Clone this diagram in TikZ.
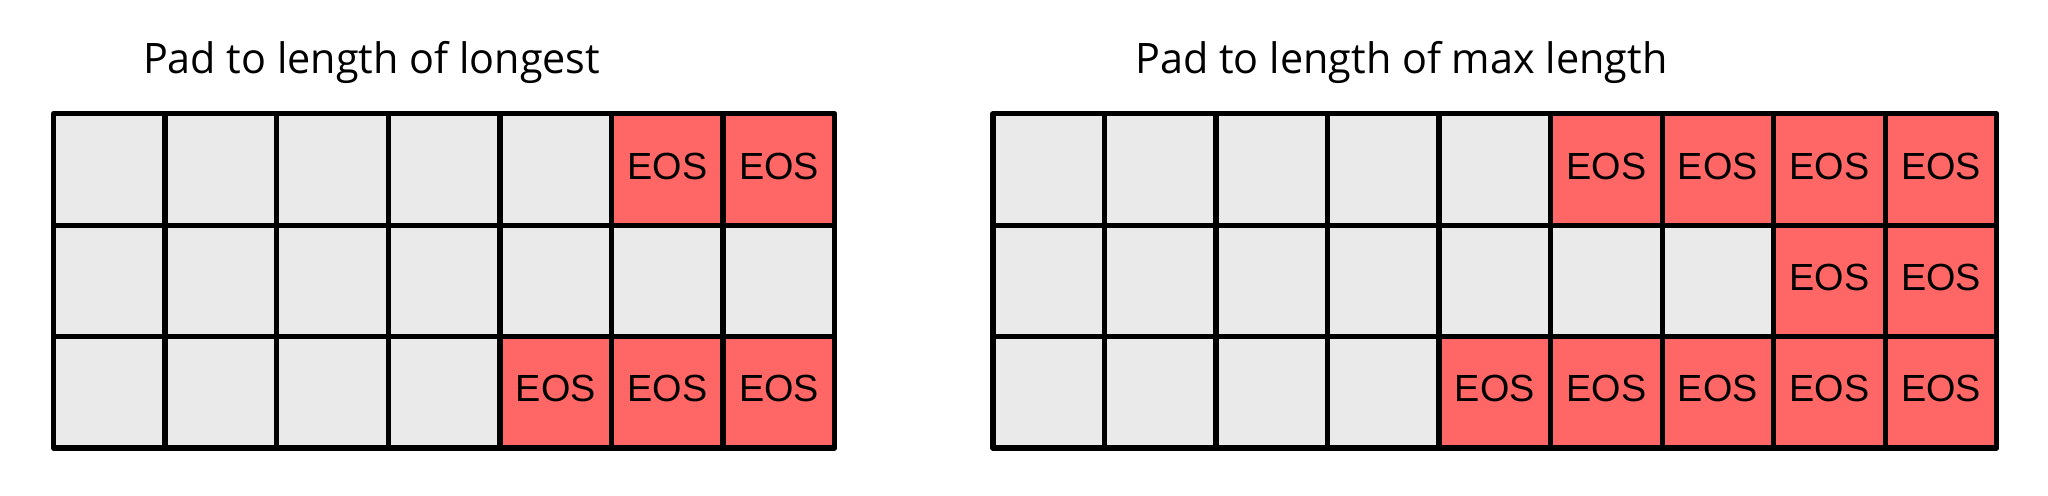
\documentclass[tikz,border=0pt]{standalone}
\usepackage{fontspec}
\setmainfont{Liberation Sans}
\newfontfamily\titlefont{Open Sans}
\definecolor{cellgray}{HTML}{EAEAEA}
\definecolor{eosred}{HTML}{FF6666}
\begin{document}
\begin{tikzpicture}[x=0.5pt,y=-0.5pt,
  cell/.style={draw=black, line width=2.6pt, line join=round, fill=cellgray,
    minimum width=55.75pt, minimum height=55.7pt, inner sep=0pt,
    font=\fontsize{18.9pt}{20pt}\selectfont, text height=13.5pt, text depth=4pt},
  eos/.style={cell, fill=eosred},
  titlestyle/.style={anchor=base west, inner sep=0pt, font=\titlefont\fontsize{21pt}{24pt}\selectfont}]
\useasboundingbox (0,0) rectangle (2048,495);
% left grid: 7 columns
\foreach \r/\t in {1/6,2/8,3/5} {
  \foreach \c in {1,...,7} {
    \ifnum\c<\t
      \node[cell] (L-\r-\c) at ({53.5+111.6*(\c-0.5)},{113.8+111.4*(\r-0.5)}) {};
    \else
      \node[eos] (L-\r-\c) at ({53.5+111.6*(\c-0.5)},{113.8+111.4*(\r-0.5)}) {EOS};
    \fi
  }
}
% right grid: 9 columns
\foreach \r/\t in {1/6,2/8,3/5} {
  \foreach \c in {1,...,9} {
    \ifnum\c<\t
      \node[cell] (R-\r-\c) at ({993+111.52*(\c-0.5)},{113.8+111.4*(\r-0.5)}) {};
    \else
      \node[eos] (R-\r-\c) at ({993+111.52*(\c-0.5)},{113.8+111.4*(\r-0.5)}) {EOS};
    \fi
  }
}
\node[titlestyle] (t1) at (142.7,73) {\resizebox{228.5pt}{\height}{Pad to length of longest}};
\node[titlestyle] (t2) at (1135,73) {\resizebox{266pt}{\height}{Pad to length of max length}};
\end{tikzpicture}
\end{document}
